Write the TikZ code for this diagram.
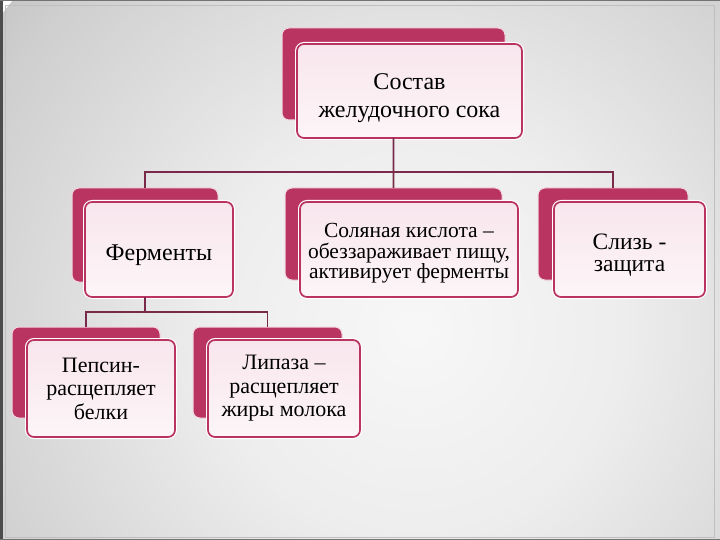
\documentclass[tikz,border=0pt]{standalone}
\usepackage{fontspec}
\setmainfont{Liberation Serif}
\newfontfamily\tnr{Liberation Serif}
\definecolor{crim}{RGB}{186,52,98}
\definecolor{linec}{RGB}{120,42,72}
\definecolor{pinkf}{RGB}{248,230,237}
\definecolor{pinkb}{RGB}{253,245,248}
\pgfdeclareradialshading{bgshade}{\pgfpoint{0bp}{0bp}}{color(0bp)=(white!97!black); color(10bp)=(white!93!black); color(23bp)=(white!81!black); color(40bp)=(white!59!black); color(50bp)=(white!53!black)}
\newcommand{\fsz}[2]{\tnr\fontsize{#1}{#2}\selectfont}
\begin{document}
\begin{tikzpicture}[x=1bp,y=-1bp,
  backbox/.style={fill=crim, draw=white!80!crim, line width=1bp, rounded corners=7bp,
    inner sep=0pt, outer sep=0pt, anchor=north west},
  frontbox/.style={draw=crim, line width=1.7bp, top color=pinkf, bottom color=pinkb,
    rounded corners=7bp, preaction={draw=white, line width=4bp},
    align=center, inner sep=2bp, outer sep=0pt, anchor=north west},
  conn/.style={draw=linec, line width=1.9bp}]
\useasboundingbox (0,0) rectangle (720,540);
\begin{scope}
\clip (0,0) rectangle (720,540);
\shade[shading=bgshade] (415,330) circle (520);
\fill[black!70] (0,0) rectangle (2.5,540);
\fill[black!55] (0,0) rectangle (720,1.2);
\fill[black!55] (0,538.8) rectangle (720,540);
\draw[white!75!black, line width=0.8bp] (5,5) rectangle (714,537);
\end{scope}

% top
\node[backbox, minimum width=223bp, minimum height=92bp] (b1) at (282,28) {};
\node[frontbox, minimum width=225bp, minimum height=94bp,
  font=\fsz{24bp}{27.5bp}] (f1) at (297,44) {\rule{0pt}{30bp}Состав\\желудочного сока};
% second row
\node[backbox, minimum width=146bp, minimum height=94bp] (b2) at (72,188) {};
\node[frontbox, minimum width=148bp, minimum height=95bp,
  font=\fsz{24bp}{27bp}] (f2) at (85,202) {\rule{0pt}{28bp}Ферменты};
\node[backbox, minimum width=217bp, minimum height=92bp] (b3) at (285,188) {};
\node[frontbox, minimum width=218bp, minimum height=95bp,
  font=\fsz{21.5bp}{20.5bp}] (f3) at (300,202) {\rule{0pt}{22bp}Соляная кислота –\\обеззараживает пищу,\\активирует ферменты};
\node[backbox, minimum width=150bp, minimum height=92bp] (b4) at (538,188) {};
\node[frontbox, minimum width=151bp, minimum height=95bp,
  font=\fsz{23.5bp}{22bp}] (f4) at (554,202) {\rule{0pt}{26bp}Слизь -\\защита};
% third row
\node[backbox, minimum width=148bp, minimum height=91bp] (b5) at (12,327) {};
\node[frontbox, minimum width=148bp, minimum height=97bp,
  font=\fsz{22bp}{23.5bp}] (f5) at (27,340) {Пепсин-\\расщепляет\\белки};
\node[backbox, minimum width=149bp, minimum height=91bp] (b6) at (193,327) {};
\node[frontbox, minimum width=152bp, minimum height=97bp,
  font=\fsz{22bp}{23.5bp}] (f6) at (208,340) {Липаза –\\расщепляет\\жиры молока};

% connectors
\coordinate (busA) at (394,172);
\coordinate (busB) at (145,312);
\draw[conn] (b1.south |- f1.south) -- (b3.north);
\draw[conn] (b2.north) -- (b2.north |- busA) -- (b4.north |- busA) -- (b4.north);
\draw[conn] (b2.south |- f2.south) -- (b2.south |- busB);
\draw[conn] (b5.north) -- (b5.north |- busB) -- (b6.north |- busB) -- (b6.north);
\end{tikzpicture}
\end{document}
